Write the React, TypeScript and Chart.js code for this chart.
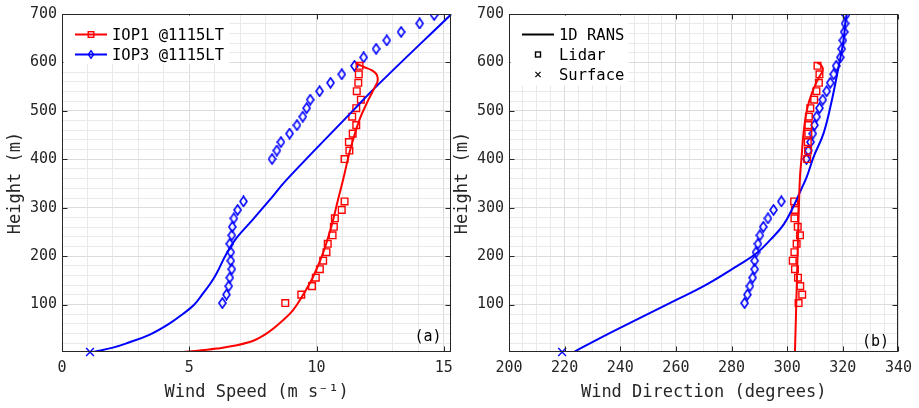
import React, { useEffect, useRef } from 'react';
import { Chart, registerables } from 'chart.js';

Chart.register(...registerables);

const FONT = '"DejaVu Sans Mono", monospace';
const TEXT = '#262626';
const AXIS = '#262626';
const GRID_MAJOR = '#dcdcdc';
const GRID_MINOR = '#e9e9e9';
const RED = '#ff0000';
const BLUE = '#0000ff';

// ---- Lidar range-gate heights (m) ----
const heightsIOP1 = [
  103, 120.5, 138, 155.5, 173, 190.5, 208, 225.5, 243, 260.5, 278, 295.5, 313,
  400.5, 418, 435.5, 453, 470.5, 488, 505.5, 523, 540.5, 558, 575.5, 593,
];
const heightsIOP3 = [
  103, 120.5, 138, 155.5, 173, 190.5, 208, 225.5, 243, 260.5, 278, 295.5, 313,
  400.5, 418, 435.5, 453, 470.5, 488, 505.5, 523, 540.5, 558, 575.5, 593,
  610.5, 628, 645.5, 663, 680.5, 698,
];

// ---- Panel (a): wind speed (m/s) ----
const lidarSpeedIOP1 = [
  8.77, 9.4, 9.82, 9.97, 10.13, 10.26, 10.39, 10.44, 10.63, 10.68, 10.72, 10.99, 11.1,
  11.1, 11.29, 11.27, 11.42, 11.56, 11.4, 11.56, 11.74, 11.58, 11.64, 11.66, 11.69,
];
const lidarSpeedIOP3 = [
  6.3, 6.46, 6.55, 6.59, 6.67, 6.63, 6.63, 6.59, 6.67, 6.69, 6.75, 6.9, 7.13,
  8.25, 8.44, 8.6, 8.94, 9.23, 9.46, 9.61, 9.75, 10.12, 10.55, 10.99, 11.49, 11.85,
  12.34, 12.76, 13.32, 14.05, 14.62,
];
const ransSpeedIOP1 = [
  4.76, 6.07, 7.37, 8.03, 8.68, 9.07, 9.46, 9.86, 10.25, 10.58, 10.84, 11.04, 11.32,
  11.68, 12.03, 12.3, 12.4, 12.36, 12.16, 11.88, 11.56,
];
const ransSpeedIOP1H = [
  2, 9, 22.6, 40, 67.5, 88, 119, 157, 205.6, 261, 316, 357, 419,
  481, 522, 550, 562, 575, 584, 590, 598,
];
const ransSpeedIOP3 = [
  1.23, 2.0, 2.54, 3.45, 4.2, 4.76, 5.2, 5.54, 5.85, 6.07, 6.46, 6.85, 7.37, 8.16, 8.81,
  11.46, 12.34, 15.3,
];
const ransSpeedIOP3H = [
  2, 11, 20, 38, 60, 81, 100, 123, 145, 164, 205, 237, 268, 316, 357, 502, 550, 700,
];
const surfaceSpeed = [1.1];
const surfaceSpeedH = [2];

// ---- Panel (b): wind direction (degrees) ----
const lidarDirIOP1 = [
  304.1, 305.4, 304.7, 303.9, 302.8, 302.0, 302.6, 303.4, 304.6, 303.8, 302.6, 302.8, 302.5,
  307.2, 307.5, 307.4, 307.6, 307.6, 307.8, 308.3, 309.7, 310.5, 311.4, 311.6, 310.9,
];
const lidarDirIOP3 = [
  284.7, 285.7, 286.6, 287.6, 288.3, 288.3, 288.8, 289.5, 290.2, 291.4, 293.1, 295.1, 297.9,
  306.9, 307.6, 308.4, 309.2, 309.8, 310.6, 311.6, 312.8, 314.2, 315.5, 316.7, 317.6,
  319.1, 319.6, 320.0, 320.5, 320.8, 321.1,
];
const ransDirIOP1 = [
  302.8, 303.5, 304.2, 304.6, 305.1, 305.9, 307.1, 308.9, 311.3, 312.8, 312.2, 310.8,
];
const ransDirIOP1H = [3, 150, 300, 363, 399, 455, 502, 537, 568, 584, 594.5, 599];
const ransDirIOP3 = [
  223.6, 234.8, 246.6, 258.5, 270.3, 282.1, 289.2, 294, 298.7, 302.2, 305.2, 307.0,
  309.5, 313.1, 316.1, 317.8, 319.1, 320.3, 320.9, 321.4,
];
const ransDirIOP3H = [
  3, 37, 71, 105, 139, 180, 207, 234, 265, 302, 340, 363, 405, 454, 523, 571, 609, 647, 682, 700,
];
const surfaceDir = [219.1];
const surfaceDirH = [2];

// ---- Axes ----
const speedMajor = [0, 5, 10, 15];
const speedMinorStep = 1;
const dirMajor = [200, 220, 240, 260, 280, 300, 320, 340];
const dirMinorStep = 5;
const heightMajor = [100, 200, 300, 400, 500, 600, 700];
const heightMinorStep = 20;

function steps(from: number, to: number, step: number) {
  const out: number[] = [];
  for (let v = from; v <= to + 1e-9; v += step) out.push(Math.round(v * 1000) / 1000);
  return out;
}

function pts(xs: number[], ys: number[]) {
  return xs.map((x, i) => ({ x, y: ys[i] }));
}

function makeDiamond(color: string, w: number, h: number, lw: number) {
  const c = document.createElement('canvas');
  c.width = w + 2;
  c.height = h + 2;
  const g = c.getContext('2d')!;
  g.strokeStyle = color;
  g.lineWidth = lw;
  g.beginPath();
  g.moveTo(c.width / 2, 1);
  g.lineTo(c.width - 1, c.height / 2);
  g.lineTo(c.width / 2, c.height - 1);
  g.lineTo(1, c.height / 2);
  g.closePath();
  g.stroke();
  return c;
}

type LegendItem = { label: string; color: string; line: boolean; marker: 'rect' | 'diamond' | 'x' | 'none'; small?: boolean };

const decorPlugin = {
  id: 'decor',
  afterDatasetsDraw(chart: any, _args: any, opts: any) {
    const { ctx, chartArea: a } = chart;
    const xs = chart.scales.x;
    const ys = chart.scales.y;
    ctx.save();
    ctx.strokeStyle = AXIS;
    ctx.lineWidth = 1;
    const L = Math.round(a.left) + 0.5;
    const R = Math.round(a.right) - 0.5;
    const T = Math.round(a.top) + 0.5;
    const B = Math.round(a.bottom) - 0.5;
    ctx.strokeRect(L, T, R - L, B - T);
    ctx.beginPath();
    for (const v of opts.xMajor) {
      const p = Math.round(xs.getPixelForValue(v)) + 0.5;
      ctx.moveTo(p, B);
      ctx.lineTo(p, B - 5);
      ctx.moveTo(p, T);
      ctx.lineTo(p, T + 5);
    }
    for (const v of opts.yMajor) {
      const p = Math.round(ys.getPixelForValue(v)) + 0.5;
      ctx.moveTo(L, p);
      ctx.lineTo(L + 5, p);
      ctx.moveTo(R, p);
      ctx.lineTo(R - 5, p);
    }
    ctx.stroke();

    ctx.fillStyle = '#000';
    ctx.font = `15px ${FONT}`;
    ctx.textAlign = 'center';
    ctx.textBaseline = 'middle';
    ctx.fillText(opts.label, opts.labelX, opts.labelY);

    const items: LegendItem[] = opts.legend;
    ctx.fillStyle = '#fff';
    ctx.fillRect(L + 1, T + 1, opts.legendW, opts.legendH);
    items.forEach((it, i) => {
      const y = a.top + 20.5 + i * 20;
      const x0 = a.left + 13;
      const x1 = a.left + 45;
      const xm = (x0 + x1) / 2;
      ctx.strokeStyle = it.color;
      if (it.line) {
        ctx.lineWidth = 2;
        ctx.beginPath();
        ctx.moveTo(x0, y);
        ctx.lineTo(x1, y);
        ctx.stroke();
      }
      ctx.lineWidth = 1.4;
      if (it.marker === 'rect') {
        const s = it.small ? 2.5 : 2.8;
        ctx.strokeRect(xm - s, y - s, 2 * s, 2 * s);
      } else if (it.marker === 'diamond') {
        ctx.beginPath();
        ctx.moveTo(xm, y - 3.8);
        ctx.lineTo(xm + 2.6, y);
        ctx.lineTo(xm, y + 3.8);
        ctx.lineTo(xm - 2.6, y);
        ctx.closePath();
        ctx.stroke();
      } else if (it.marker === 'x') {
        ctx.lineWidth = 1.2;
        ctx.beginPath();
        ctx.moveTo(xm - 2.6, y - 2.6);
        ctx.lineTo(xm + 2.6, y + 2.6);
        ctx.moveTo(xm + 2.6, y - 2.6);
        ctx.lineTo(xm - 2.6, y + 2.6);
        ctx.stroke();
      }
      ctx.fillStyle = '#000';
      ctx.font = `15.5px ${FONT}`;
      ctx.textAlign = 'left';
      ctx.textBaseline = 'middle';
      ctx.fillText(it.label, a.left + 50, y + 1);
    });
    ctx.restore();
  },
};

type PanelSpec = {
  xMin: number;
  xMax: number;
  xMajor: number[];
  xStep: number;
  xTitle: string;
  padRight: number;
  datasets: any[];
  label: string;
  labelX: number;
  labelY: number;
  legend: LegendItem[];
  legendW: number;
  legendH: number;
};

function makeConfig(p: PanelSpec): any {
  const xGrid = steps(p.xMin, p.xMajor[p.xMajor.length - 1], p.xStep);
  const yGrid = steps(heightMinorStep, 700, heightMinorStep);
  const tickFont = { family: FONT, size: 15 };
  const titleFont = { family: FONT, size: 17 };
  return {
    type: 'scatter',
    data: { datasets: p.datasets },
    plugins: [decorPlugin],
    options: {
      animation: false,
      responsive: true,
      maintainAspectRatio: false,
      events: [],
      layout: { padding: { top: 14, right: p.padRight, left: 0, bottom: 0 } },
      plugins: {
        legend: { display: false },
        tooltip: { enabled: false },
        decor: {
          xMajor: p.xMajor,
          yMajor: heightMajor,
          label: p.label,
          labelX: p.labelX,
          labelY: p.labelY,
          legend: p.legend,
          legendW: p.legendW,
          legendH: p.legendH,
        },
      },
      scales: {
        x: {
          type: 'linear',
          min: p.xMin,
          max: p.xMax,
          afterBuildTicks: (s: any) => {
            s.ticks = xGrid.map((v) => ({ value: v }));
          },
          afterFit: (s: any) => {
            s.height = 56;
          },
          ticks: {
            autoSkip: false,
            maxRotation: 0,
            padding: 7,
            font: tickFont,
            color: TEXT,
            callback: (v: number) => (p.xMajor.includes(v) ? String(v) : ''),
          },
          grid: {
            drawTicks: false,
            lineWidth: 1,
            color: (c: any) => (c.tick && p.xMajor.includes(c.tick.value) ? GRID_MAJOR : GRID_MINOR),
          },
          border: { display: false },
          title: {
            display: true,
            text: p.xTitle,
            font: titleFont,
            color: TEXT,
            padding: { top: 0, bottom: 5 },
          },
        },
        y: {
          type: 'linear',
          min: 2,
          max: 700,
          afterBuildTicks: (s: any) => {
            s.ticks = yGrid.map((v) => ({ value: v }));
          },
          afterFit: (s: any) => {
            s.width = 62;
          },
          ticks: {
            autoSkip: false,
            padding: 5,
            font: tickFont,
            color: TEXT,
            callback: (v: number) => (heightMajor.includes(v) ? String(v) : ''),
          },
          grid: {
            drawTicks: false,
            lineWidth: 1,
            color: (c: any) => (c.tick && heightMajor.includes(c.tick.value) ? GRID_MAJOR : GRID_MINOR),
          },
          border: { display: false },
          title: {
            display: true,
            text: 'Height (m)',
            font: titleFont,
            color: TEXT,
            padding: { top: 5, bottom: 0 },
          },
        },
      },
    },
  };
}

function lineDs(xs: number[], ys: number[], color: string) {
  return {
    data: pts(xs, ys),
    showLine: true,
    borderColor: color,
    borderWidth: 2,
    pointRadius: 0,
    tension: 0.4,
    fill: false,
  };
}

function squareDs(xs: number[], ys: number[], color: string) {
  return {
    data: pts(xs, ys),
    showLine: false,
    pointStyle: 'rect',
    pointRadius: 4.7,
    pointBorderColor: color,
    pointBorderWidth: 1.4,
    pointBackgroundColor: 'rgba(0,0,0,0)',
  };
}

function diamondDs(xs: number[], ys: number[], img: HTMLCanvasElement) {
  return {
    data: pts(xs, ys),
    showLine: false,
    pointStyle: img,
    pointRadius: 5,
  };
}

function crossDs(xs: number[], ys: number[], color: string) {
  return {
    data: pts(xs, ys),
    showLine: false,
    pointStyle: 'crossRot',
    pointRadius: 5.5,
    pointBorderColor: color,
    pointBorderWidth: 1.4,
    clip: false,
  };
}

export default function App() {
  const refA = useRef<HTMLCanvasElement>(null);
  const refB = useRef<HTMLCanvasElement>(null);

  useEffect(() => {
    const diamond = makeDiamond(BLUE, 7, 10, 1.6);
    const chartA = new Chart(
      refA.current!,
      makeConfig({
        xMin: 0,
        xMax: 15.3,
        xMajor: speedMajor,
        xStep: speedMinorStep,
        xTitle: 'Wind Speed (m s⁻¹)',
        padRight: 7,
        datasets: [
          crossDs(surfaceSpeed, surfaceSpeedH, BLUE),
          lineDs(ransSpeedIOP1, ransSpeedIOP1H, RED),
          lineDs(ransSpeedIOP3, ransSpeedIOP3H, BLUE),
          squareDs(lidarSpeedIOP1, heightsIOP1, RED),
          diamondDs(lidarSpeedIOP3, heightsIOP3, diamond),
        ],
        label: '(a)',
        labelX: 428,
        labelY: 337,
        legend: [
          { label: 'IOP1 @1115LT', color: RED, line: true, marker: 'rect' },
          { label: 'IOP3 @1115LT', color: BLUE, line: true, marker: 'diamond' },
        ],
        legendW: 166,
        legendH: 48,
      }),
    );
    const chartB = new Chart(
      refB.current!,
      makeConfig({
        xMin: 200,
        xMax: 340,
        xMajor: dirMajor,
        xStep: dirMinorStep,
        xTitle: 'Wind Direction (degrees)',
        padRight: 19,
        datasets: [
          crossDs(surfaceDir, surfaceDirH, BLUE),
          lineDs(ransDirIOP1, ransDirIOP1H, RED),
          lineDs(ransDirIOP3, ransDirIOP3H, BLUE),
          squareDs(lidarDirIOP1, heightsIOP1, RED),
          diamondDs(lidarDirIOP3, heightsIOP3, diamond),
        ],
        label: '(b)',
        labelX: 428.5,
        labelY: 342,
        legend: [
          { label: '1D RANS', color: '#000', line: true, marker: 'none' },
          { label: 'Lidar', color: '#000', line: false, marker: 'rect', small: true },
          { label: 'Surface', color: '#000', line: false, marker: 'x' },
        ],
        legendW: 118,
        legendH: 70,
      }),
    );
    return () => {
      chartA.destroy();
      chartB.destroy();
    };
  }, []);

  return (
    <div style={{ position: 'fixed', left: 0, top: 0, width: 919, height: 408, background: '#fff' }}>
      <div style={{ position: 'absolute', left: 0, top: 0, width: 460, height: 408 }}>
        <canvas ref={refA} />
      </div>
      <div style={{ position: 'absolute', left: 447, top: 0, width: 472, height: 408 }}>
        <canvas ref={refB} />
      </div>
    </div>
  );
}
